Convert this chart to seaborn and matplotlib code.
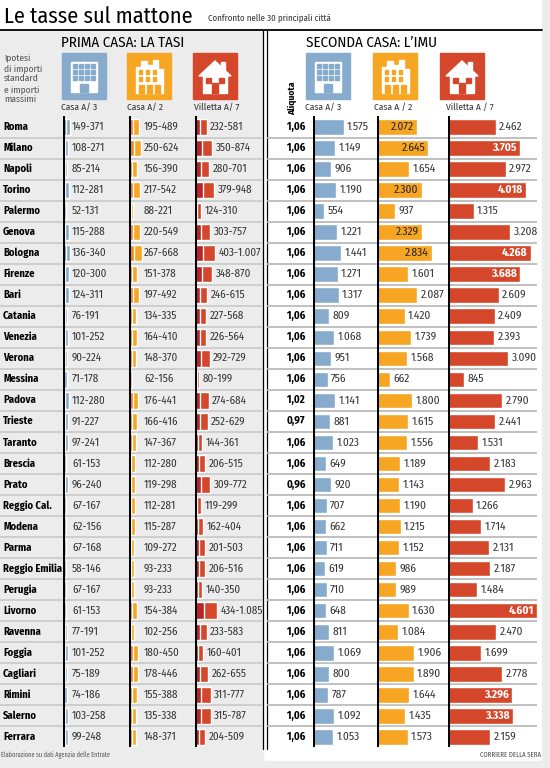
import matplotlib
matplotlib.use("Agg")
import matplotlib.pyplot as plt
import seaborn as sns
import pandas as pd
from matplotlib.patches import Rectangle, Polygon

# ---------------- data ----------------
cities = ["Roma", "Milano", "Napoli", "Torino", "Palermo", "Genova", "Bologna", "Firenze",
          "Bari", "Catania", "Venezia", "Verona", "Messina", "Padova", "Trieste", "Taranto",
          "Brescia", "Prato", "Reggio Cal.", "Modena", "Parma", "Reggio Emilia", "Perugia",
          "Livorno", "Ravenna", "Foggia", "Cagliari", "Rimini", "Salerno", "Ferrara"]

tasi_a3_min = [149, 108, 85, 112, 52, 115, 136, 120, 124, 76, 101, 90, 71, 112, 91, 97,
               61, 96, 67, 62, 67, 58, 67, 61, 77, 101, 75, 74, 103, 99]
tasi_a3_max = [371, 271, 214, 281, 131, 288, 340, 300, 311, 191, 252, 224, 178, 280, 227, 241,
               153, 240, 167, 156, 168, 146, 167, 153, 191, 252, 189, 186, 258, 248]
tasi_a2_min = [195, 250, 156, 217, 88, 220, 267, 151, 197, 134, 164, 148, 62, 176, 166, 147,
               112, 119, 112, 115, 109, 93, 93, 154, 102, 180, 178, 155, 135, 148]
tasi_a2_max = [489, 624, 390, 542, 221, 549, 668, 378, 492, 335, 410, 370, 156, 441, 416, 367,
               280, 298, 281, 287, 272, 233, 233, 384, 256, 450, 446, 388, 338, 371]
tasi_a7_min = [232, 350, 280, 379, 124, 303, 403, 348, 246, 227, 226, 292, 80, 274, 252, 144,
               206, 309, 119, 162, 201, 206, 140, 434, 233, 160, 262, 311, 315, 204]
tasi_a7_max = [581, 874, 701, 948, 310, 757, 1007, 870, 615, 568, 564, 729, 199, 684, 629, 361,
               515, 772, 299, 404, 503, 516, 350, 1085, 583, 401, 655, 777, 787, 509]

aliquota = ["1,06", "1,06", "1,06", "1,06", "1,06", "1,06", "1,06", "1,06", "1,06", "1,06",
            "1,06", "1,06", "1,06", "1,02", "0,97", "1,06", "1,06", "0,96", "1,06", "1,06",
            "1,06", "1,06", "1,06", "1,06", "1,06", "1,06", "1,06", "1,06", "1,06", "1,06"]

imu_a3 = [1575, 1149, 906, 1190, 554, 1221, 1441, 1271, 1317, 809, 1068, 951, 756, 1141, 881,
          1023, 649, 920, 707, 662, 711, 619, 710, 648, 811, 1069, 800, 787, 1092, 1053]
imu_a2 = [2072, 2645, 1654, 2300, 937, 2329, 2834, 1601, 2087, 1420, 1739, 1568, 662, 1800, 1615,
          1556, 1189, 1143, 1190, 1215, 1152, 986, 989, 1630, 1084, 1906, 1890, 1644, 1435, 1573]
imu_a7 = [2462, 3705, 2972, 4018, 1315, 3208, 4268, 3688, 2609, 2409, 2393, 3090, 845, 2790, 2441,
          1531, 2183, 2963, 1266, 1714, 2131, 2187, 1484, 4601, 2470, 1699, 2778, 3296, 3338, 2159]

# cities whose IMU value is printed inside the bar
inside_a2 = ["Roma", "Milano", "Torino", "Genova", "Bologna"]
inside_a7 = ["Milano", "Torino", "Bologna", "Firenze", "Livorno", "Rimini", "Salerno"]

# ---------------- style ----------------
sns.set_theme(style="white")
FONT = ["Fira Sans Condensed", "Roboto Condensed", "DejaVu Sans"]
plt.rcParams["font.family"] = FONT

BLUE, BLUE_D = "#86abcc", "#6793bb"
ORANGE, ORANGE_D = "#f6a623", "#ee8a1c"
RED, RED_D = "#d5472a", "#b8242a"
PANEL = "#ececec"
TXT = "#333333"

W, H = 550, 768
fig = plt.figure(figsize=(W / 100, H / 100), dpi=100)
fig.patch.set_facecolor("white")

bg = fig.add_axes([0, 0, 1, 1])
bg.set_xlim(0, W)
bg.set_ylim(H, 0)
bg.axis("off")

n = len(cities)
ROW0, ROWH = 127, 21.03
top_px = ROW0 - ROWH / 2
bot_px = ROW0 + ROWH * (n - 0.5)


def fy(px):
    return 1 - px / H


def fmt(v):
    return f"{v:,}".replace(",", ".")


# backgrounds
bg.add_patch(Rectangle((0, 30), 263, H - 30, color=PANEL, zorder=0))
bg.add_patch(Rectangle((542, 0), 8, H, color=PANEL, zorder=0))
bg.add_patch(Rectangle((0, 761), W, 7, color=PANEL, zorder=0))
bg.plot([0, 542], [30, 30], color="black", lw=1.3, zorder=2)
bg.plot([263, 263], [30, 749], color="black", lw=0.9, zorder=2)
bg.plot([266.5, 266.5], [30, 749], color="black", lw=0.9, zorder=2)

# titles
bg.text(4, 16.5, "Le tasse sul mattone", fontsize=16, fontweight="normal", color="black",
        va="center", ha="left")
bg.text(208, 18, "Confronto nelle 30 principali città", fontsize=6.4, color=TXT, va="center")
bg.text(61, 43, "PRIMA CASA: LA TASI", fontsize=10.8, color="black", va="center")
bg.text(306, 43, "SECONDA CASA: L’IMU", fontsize=10.8, color="black", va="center")
for k, line in enumerate(["Ipotesi", "di importi", "standard", "e importi", "massimi"]):
    bg.text(4, 58 + k * 10.4, line, fontsize=6.8, color="#555555", va="center")
bg.text(292, 98, "Aliquota", fontsize=6.8, fontweight="bold", rotation=90,
        ha="center", va="center", color="black")
bg.text(1, 755, "Elaborazione su dati Agenzia delle Entrate", fontsize=4.5, color="#555555", va="center")
bg.text(541, 755, "CORRIERE DELLA SERA", fontsize=4.8, color="#444444", va="center", ha="right")


# icons
def icon_building(x, y, c):
    bg.add_patch(Rectangle((x, y), 44, 46, color=c, zorder=1))
    bg.add_patch(Rectangle((x + 9, y + 9), 26, 30, color="white", zorder=2))
    for r in range(3):
        for q in range(4):
            bg.add_patch(Rectangle((x + 11 + q * 6, y + 11 + r * 6), 4, 4, color=c, zorder=3))
    bg.add_patch(Rectangle((x + 18, y + 31), 8, 8, color=c, zorder=3))


def icon_palazzo(x, y, c):
    bg.add_patch(Rectangle((x, y), 44, 46, color=c, zorder=1))
    pts = [(x + 9, y + 40), (x + 9, y + 14), (x + 14, y + 14), (x + 14, y + 8), (x + 20, y + 8),
           (x + 20, y + 12), (x + 26, y + 12), (x + 26, y + 7), (x + 31, y + 7), (x + 31, y + 16),
           (x + 36, y + 16), (x + 36, y + 40)]
    bg.add_patch(Polygon(pts, closed=True, color="white", zorder=2))
    for q in range(3):
        for r in range(2):
            bg.add_patch(Rectangle((x + 12 + q * 7, y + 17 + r * 7), 3, 4, color=c, zorder=3))
    for q in range(3):
        bg.add_patch(Rectangle((x + 12 + q * 8, y + 32), 5, 8, color=c, zorder=3))


def icon_house(x, y, c):
    bg.add_patch(Rectangle((x, y), 44, 46, color=c, zorder=1))
    bg.add_patch(Polygon([(x + 6, y + 23), (x + 22, y + 8), (x + 38, y + 23)], closed=True,
                         color="white", zorder=2))
    bg.add_patch(Rectangle((x + 28, y + 9), 4, 8, color="white", zorder=2))
    bg.add_patch(Rectangle((x + 10, y + 22), 24, 18, color="white", zorder=2))
    bg.add_patch(Rectangle((x + 13, y + 25), 5, 5, color=c, zorder=3))
    bg.add_patch(Rectangle((x + 26, y + 25), 5, 5, color=c, zorder=3))
    bg.add_patch(Rectangle((x + 19, y + 30), 6, 10, color=c, zorder=3))


icon_building(62, 53, BLUE)
icon_palazzo(127, 53, ORANGE)
icon_house(193, 53, RED)
icon_building(306, 53, BLUE)
icon_palazzo(373, 53, ORANGE)
icon_house(440, 53, RED)
for xx, lab in [(61, "Casa A/ 3"), (127, "Casa A/ 2"), (194, "Villetta A/ 7"),
                (305, "Casa A/ 3"), (374, "Casa A / 2"), (446, "Villetta A / 7")]:
    bg.text(xx, 107.5, lab, fontsize=6.8, color=TXT, va="center")

# table frame axis (row positions)
tab = fig.add_axes([0, fy(bot_px), 1, (bot_px - top_px) / H])
tab.patch.set_alpha(0)
tab.set_xlim(0, W)
tab.set_ylim(n - 0.5, -0.5)
tab.axis("off")
ys = list(range(n))
tab.hlines([i + 0.5 for i in ys[:-1]], 0, 262, color="#c6c6c6", lw=1.1)
tab.hlines([i + 0.5 for i in ys[:-1]], 267, 537, color="#b5b5b5", lw=1.2)
for i, c in enumerate(cities):
    tab.text(3, i, c, fontsize=7.6, fontweight="bold", color="black", va="center", ha="left")
    tab.text(296, i, aliquota[i], fontsize=7.8, fontweight="bold", color="black",
             va="center", ha="center")

df = pd.DataFrame({"city": cities,
                   "a3_min": tasi_a3_min, "a3_max": tasi_a3_max,
                   "a2_min": tasi_a2_min, "a2_max": tasi_a2_max,
                   "a7_min": tasi_a7_min, "a7_max": tasi_a7_max,
                   "imu_a3": imu_a3, "imu_a2": imu_a2, "imu_a7": imu_a7})


def make_ax(x0, wpx):
    ax = fig.add_axes([x0 / W, fy(bot_px), wpx / W, (bot_px - top_px) / H])
    ax.patch.set_alpha(0)
    return ax


def finish(ax, wpx, scale):
    ax.set_xlim(0, wpx / scale)
    ax.set_ylim(n - 0.5, -0.5)
    ax.axis("off")
    ax.axvline(0, color="black", lw=2.2, zorder=5)


LBL_L = 7.9
LBL_R = 8.2

# ----- left panel: TASI (stacked min / max) -----
SL = 0.02
left_cols = [(63, 64, "a3", BLUE, BLUE_D, "fixed", 9),
             (129, 64, "a2", ORANGE, ORANGE_D, "fixed", 15),
             (195, 66, "a7", RED, RED_D, "after", 3.5)]
for x0, wpx, key, cl, cd, mode, off in left_cols:
    ax = make_ax(x0, wpx)
    sns.barplot(data=df, x=key + "_max", y="city", orient="h", color=cl, saturation=1,
                width=0.78, ax=ax, zorder=2)
    sns.barplot(data=df, x=key + "_min", y="city", orient="h", color=cd, saturation=1,
                width=0.78, ax=ax, zorder=3)
    for i in range(n):
        mn, mx = df[key + "_min"][i], df[key + "_max"][i]
        xt = off / SL if mode == "fixed" else mx + off / SL
        ax.text(xt, i, f"{mn}-{fmt(mx)}", fontsize=LBL_L, color=TXT, va="center", ha="left")
    finish(ax, wpx, SL)

# ----- right panel: IMU -----
SR = 0.0194
right_cols = [(313, 63, "imu_a3", BLUE, [], "black"),
              (377, 70, "imu_a2", ORANGE, inside_a2, "#222222"),
              (448, 92, "imu_a7", RED, inside_a7, "white")]
for x0, wpx, key, col, inside, incol in right_cols:
    ax = make_ax(x0, wpx)
    sns.barplot(data=df, x=key, y="city", orient="h", color=col, saturation=1,
                width=0.74, ax=ax, zorder=2)
    for i in range(n):
        v = df[key][i]
        if cities[i] in inside:
            bold = "bold" if incol == "white" else "normal"
            ax.text(v - 3 / SR, i, fmt(v), fontsize=LBL_R, color=incol, va="center",
                    ha="right", fontweight=bold, zorder=6)
        else:
            ax.text(v + 3.5 / SR, i, fmt(v), fontsize=LBL_R, color=TXT, va="center", ha="left")
    finish(ax, wpx, SR)

fig.savefig("out.png", dpi=100, facecolor=fig.get_facecolor())
